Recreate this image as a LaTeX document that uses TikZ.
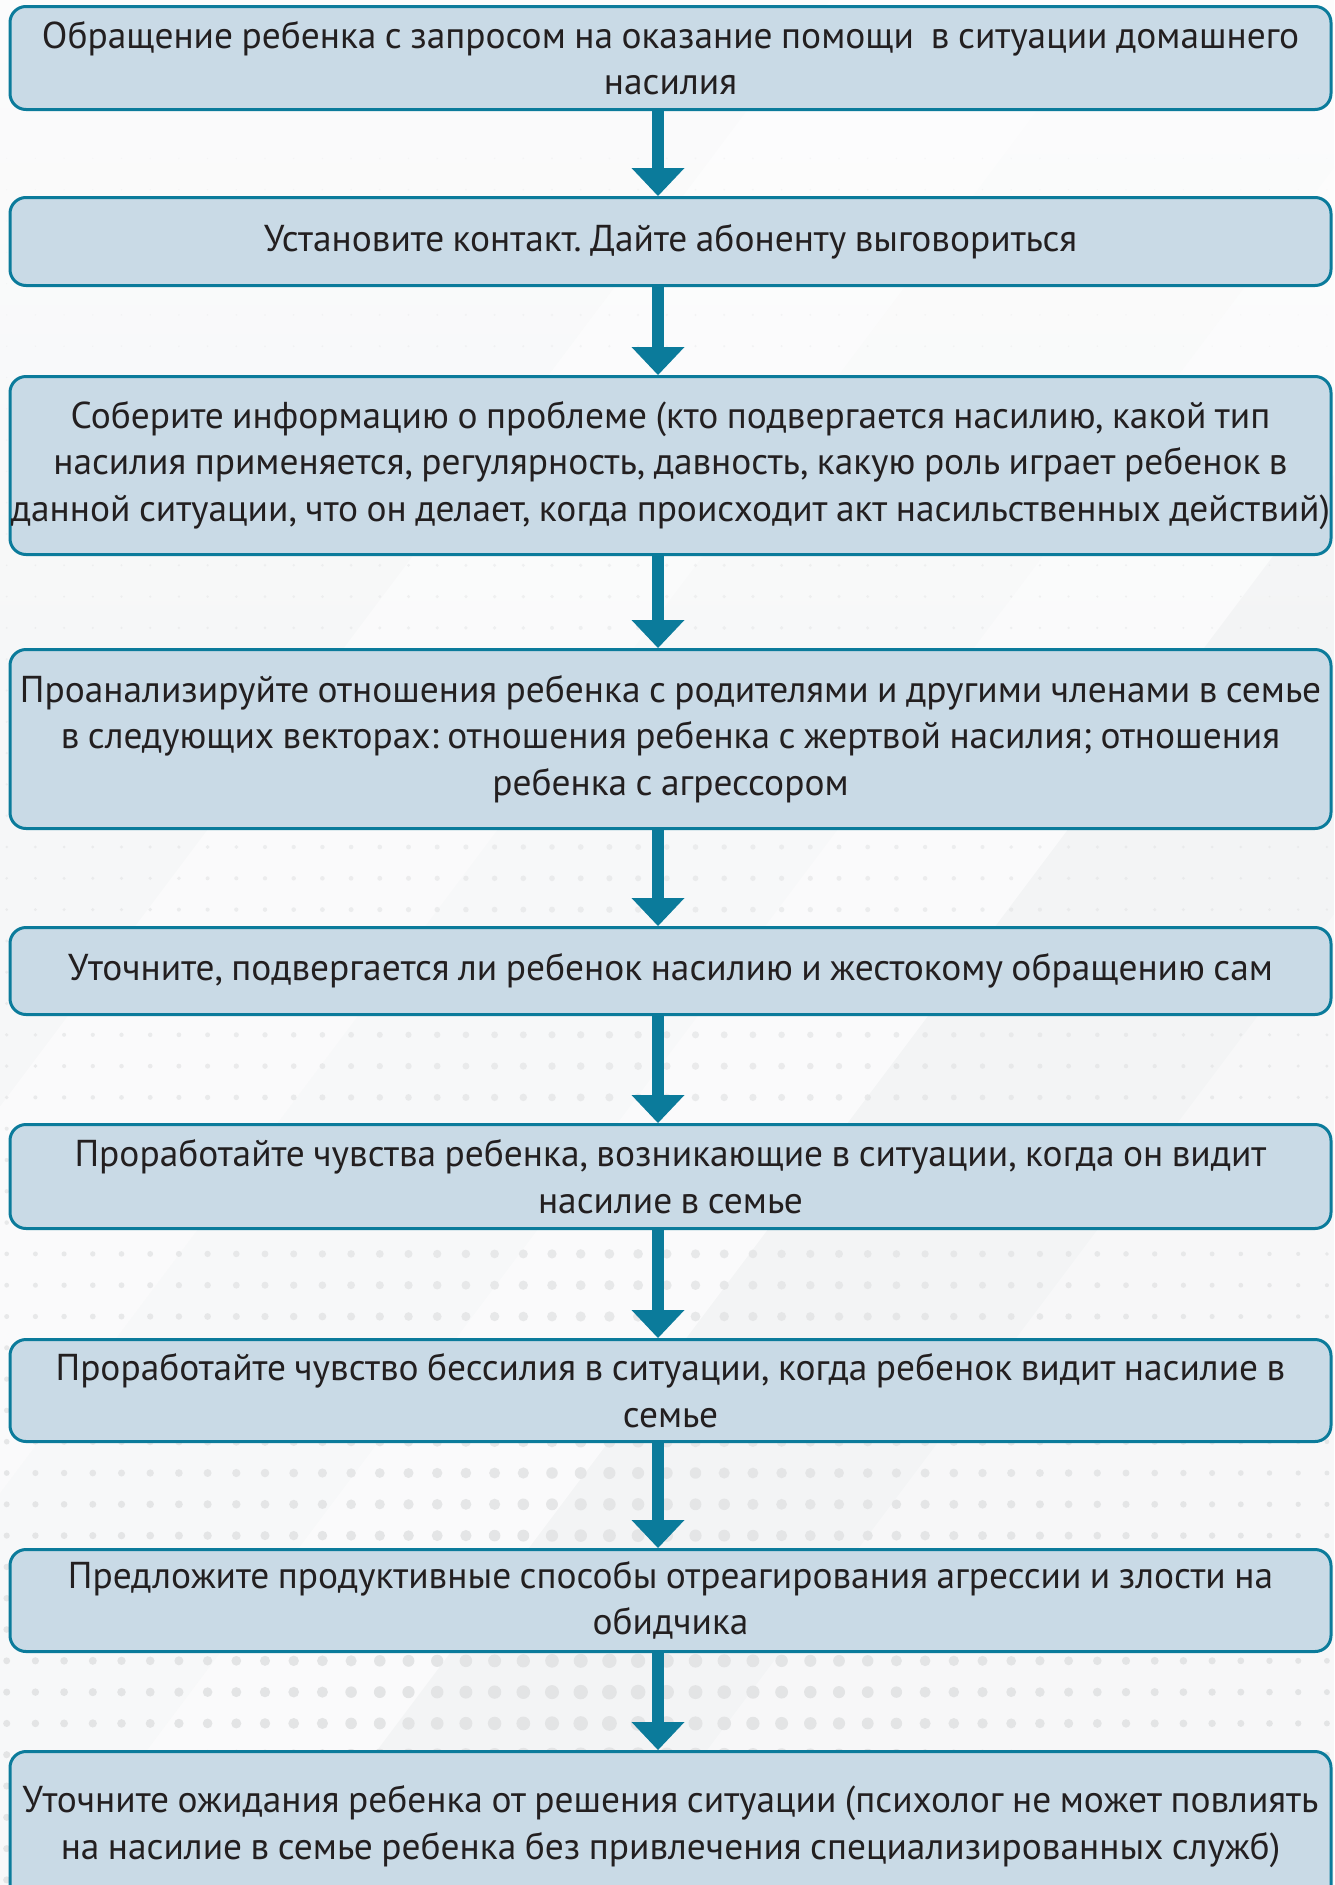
\documentclass[tikz,border=0pt]{standalone}
\usepackage{fontspec}
\setmainfont[WordSpace=0.85]{PT Sans}
\frenchspacing
\usetikzlibrary{arrows.meta}
\definecolor{boxfill}{HTML}{C9DAE6}
\definecolor{edge}{HTML}{0B7B9B}
\definecolor{ink}{HTML}{231F20}
\definecolor{paper}{HTML}{F3F4F5}
\definecolor{dotgray}{HTML}{E3E4E5}
\tikzset{
  stepbox/.style={draw=edge, fill=boxfill, line width=3pt, rounded corners=16pt,
    minimum width=1321pt, inner xsep=0pt, inner ysep=0pt,
    align=center, anchor=north, text=ink,
    font=\fontsize{37.4}{46.5}\selectfont},
  flow/.style={draw=edge, line width=12pt,
    -{Triangle[width=53pt,length=28pt,line width=0pt]}},
  band/.style={fill=white}
}
\begin{document}
\begin{tikzpicture}[x=1pt,y=-1pt]
  % page and background
  \fill[paper] (0,0) rectangle (1334,1885);
  \useasboundingbox (0,0) rectangle (1334,1885);
  \shade[top color=white!60!paper, bottom color=paper] (0,0) rectangle (1334,650);
  % soft diagonal light bands (x = c - 0.75 y)
  \fill[band, opacity=0.3] (-1000,0) -- (830,0) -- (830-1414,1885) -- (-1000,1885) -- cycle;
  \fill[band, opacity=0.6] (830,0) -- (1120,0) -- (1120-1414,1885) -- (830-1414,1885) -- cycle;
  \fill[band, opacity=0.4] (1120,0) -- (1460,0) -- (1460-1414,1885) -- (1120-1414,1885) -- cycle;
  \fill[band, opacity=0.6] (1460,0) -- (1690,0) -- (1690-1414,1885) -- (1460-1414,1885) -- cycle;
  \fill[band, opacity=0.35] (2020,0) -- (3000,0) -- (3000,1885) -- (2020-1414,1885) -- cycle;
  % halftone dot grid
  \foreach \k in {-22,...,33} {
    \pgfmathsetmacro\yy{847+31.3*\k}
    \pgfmathsetmacro\tt{max(0,min(1,(\yy-150)/1550))}
    \pgfmathsetmacro\op{0.25+0.75*\tt}
    \foreach \i in {0,...,46} {
      \pgfmathsetmacro\xx{6.7+28.7*\i}
      \pgfmathsetmacro\ff{1-0.6*min(1,abs(\xx-620)/700)}
      \pgfmathsetmacro\rr{(1+6.5*\tt^1.5)*\ff}
      \fill[dotgray, opacity=\op] (\xx,\yy) circle (\rr);
    }
  }
  % steps
  \coordinate (ax) at (658,0);
  \node[stepbox, minimum height=103pt] (b1) at (670.5,5)
    {Обращение ребенка с запросом на оказание помощи~ в ситуации домашнего\\насилия};
  \node[stepbox, minimum height=88pt] (b2) at (670.5,196)
    {Установите контакт. Дайте абоненту выговориться};
  \node[stepbox, minimum height=178pt] (b3) at (670.5,375)
    {Соберите информацию о проблеме (кто подвергается насилию, какой тип\\насилия применяется, регулярность, давность, какую роль играет ребенок в\\данной ситуации, что он делает, когда происходит акт насильственных действий)};
  \node[stepbox, minimum height=179pt] (b4) at (670.5,648)
    {Проанализируйте отношения ребенка с родителями и другими членами в семье\\в следующих векторах: отношения ребенка с жертвой насилия; отношения\\ребенка с агрессором};
  \node[stepbox, minimum height=87pt] (b5) at (670.5,926)
    {Уточните, подвергается ли ребенок насилию и жестокому обращению сам};
  \node[stepbox, minimum height=104pt] (b6) at (670.5,1123)
    {Проработайте чувства ребенка, возникающие в ситуации, когда он видит\\насилие в семье};
  \node[stepbox, minimum height=102pt] (b7) at (670.5,1338)
    {Проработайте чувство бессилия в ситуации, когда ребенок видит насилие в\\семье};
  \node[stepbox, minimum height=102pt] (b8) at (670.5,1548)
    {Предложите продуктивные способы отреагирования агрессии и злости на\\обидчика};
  \node[stepbox, minimum height=150pt] (b9) at (670.5,1750)
    {Уточните ожидания ребенка от решения ситуации (психолог не может повлиять\\на насилие в семье ребенка без привлечения специализированных служб)};
  % connectors
  \foreach \a/\b in {b1/b2,b2/b3,b3/b4,b4/b5,b5/b6,b6/b7,b7/b8,b8/b9}
    \draw[flow] (\a.south -| ax) -- (\b.north -| ax);
\end{tikzpicture}
\end{document}
